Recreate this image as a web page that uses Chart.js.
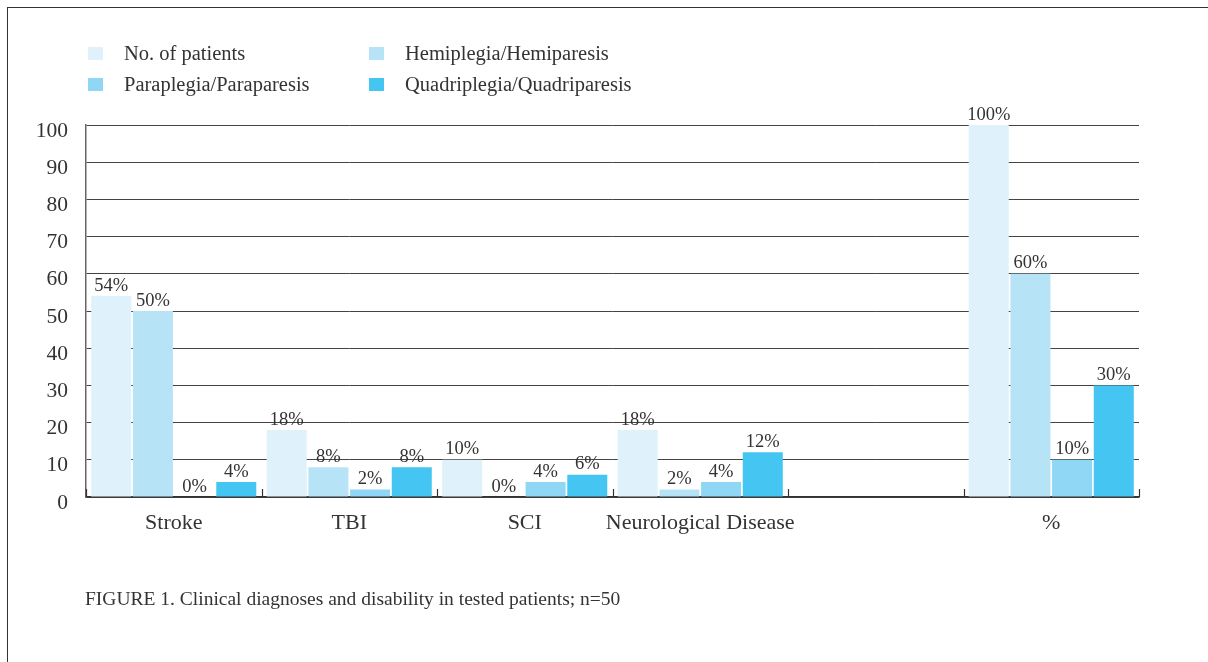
<!DOCTYPE html>
<html>
<head>
<meta charset="utf-8">
<script src="https://cdn.jsdelivr.net/npm/chart.js@4.4.1/dist/chart.umd.min.js"></script>
<style>
  html, body { margin: 0; padding: 0; background: #fff; }
  body { width: 1208px; height: 662px; position: relative; overflow: hidden; font-family: "Liberation Serif", "DejaVu Serif", serif; color: #333; }
  #frame { position: absolute; left: 7px; top: 7px; width: 1210px; height: 670px; border-top: 1.5px solid #333; border-left: 1.5px solid #333; }
  #wrap { position: absolute; left: 0; top: 0; width: 1208px; height: 662px; }
  #legend { position: absolute; left: 88px; top: 42px; width: 640px; display: grid; grid-template-columns: 281px 320px; row-gap: 8px; font-size: 20.5px; }
  #legend span.item { display: flex; align-items: center; height: 23px; white-space: nowrap; }
  #legend span.box { display: inline-block; width: 15px; height: 13px; margin-right: 21px; }
  #caption { position: absolute; left: 85px; top: 588px; font-size: 19.5px; white-space: nowrap; }
</style>
</head>
<body>
<div id="frame"></div>
<div id="wrap"><canvas id="chart"></canvas></div>
<div id="legend"></div>
<div id="caption">FIGURE 1. Clinical diagnoses and disability in tested patients; n=50</div>
<script>
const categories = ["Stroke", "TBI", "SCI", "Neurological Disease", "", "%"];
const patients = [54, 18, 10, 18, null, 100];
const hemiplegia = [50, 8, 0, 2, null, 60];
const paraplegia = [0, 2, 4, 4, null, 10];
const quadriplegia = [4, 8, 6, 12, null, 30];
const yTicks = [0, 10, 20, 30, 40, 50, 60, 70, 80, 90, 100];

const seriesNames = ["No. of patients", "Hemiplegia/Hemiparesis", "Paraplegia/Paraparesis", "Quadriplegia/Quadriparesis"];
const seriesColors = ["#dff1fb", "#b7e3f7", "#8fd7f5", "#45c6f2"];
const seriesData = [patients, hemiplegia, paraplegia, quadriplegia];

// legend in two columns
document.getElementById("legend").innerHTML = seriesNames.map((n, i) =>
  `<span class="item"><span class="box" style="background:${seriesColors[i]}"></span>${n}</span>`
).join("");

// value labels above bars
const barLabels = {
  id: "barLabels",
  afterDatasetsDraw(chart) {
    const ctx = chart.ctx;
    ctx.save();
    ctx.font = "18.5px 'Liberation Serif', serif";
    ctx.fillStyle = "#333";
    ctx.textAlign = "center";
    ctx.textBaseline = "bottom";
    chart.data.datasets.forEach((ds, di) => {
      chart.getDatasetMeta(di).data.forEach((bar, i) => {
        const v = ds.data[i];
        if (v === null || v === undefined) return;
        ctx.fillText(v + "%", bar.x, bar.y - 1);
      });
    });
    ctx.restore();
  }
};

// small upward marks at the category borders
const catMarks = {
  id: "catMarks",
  afterDraw(chart) {
    const ctx = chart.ctx;
    const x = chart.scales.x;
    const bottom = chart.chartArea.bottom;
    const step = x.getPixelForValue(1) - x.getPixelForValue(0);
    ctx.save();
    ctx.strokeStyle = "#333";
    ctx.lineWidth = 1.2;
    for (let i = 0; i <= categories.length; i++) {
      const px = Math.round(x.getPixelForValue(i) - step / 2) + 0.5;
      ctx.beginPath();
      ctx.moveTo(px, bottom);
      ctx.lineTo(px, bottom - 8);
      ctx.stroke();
    }
    ctx.restore();
  }
};

new Chart(document.getElementById("chart").getContext("2d"), {
  type: "bar",
  data: {
    labels: categories,
    datasets: seriesData.map((d, i) => ({
      label: seriesNames[i],
      data: d,
      backgroundColor: seriesColors[i],
      borderWidth: 0,
      categoryPercentage: 0.95,
      barPercentage: 0.96,
    })),
  },
  options: {
    responsive: true,
    maintainAspectRatio: false,
    animation: false,
    layout: { padding: { top: 125, right: 69, bottom: 125, left: 0 } },
    scales: {
      x: {
        grid: { display: false, drawTicks: false },
        border: { color: "#333", width: 1.5 },
        ticks: { color: "#333", font: { family: "'Liberation Serif', serif", size: 22 }, padding: 13, maxRotation: 0, autoSkip: false },
        afterFit: (s) => { s.height = 40; },
      },
      y: {
        min: 0,
        max: 100,
        afterBuildTicks: (s) => { s.ticks = yTicks.map(v => ({ value: v })); },
        grid: { color: "#444", lineWidth: 1, drawTicks: false },
        border: { color: "#666", width: 1.5 },
        ticks: { color: "#333", font: { family: "'Liberation Serif', serif", size: 21.5 }, padding: 18, labelOffset: 6 },
        afterFit: (s) => { s.width = 86; },
      },
    },
    plugins: {
      legend: { display: false },
      tooltip: { enabled: false },
    },
  },
  plugins: [barLabels, catMarks],
});
</script>
</body>
</html>
